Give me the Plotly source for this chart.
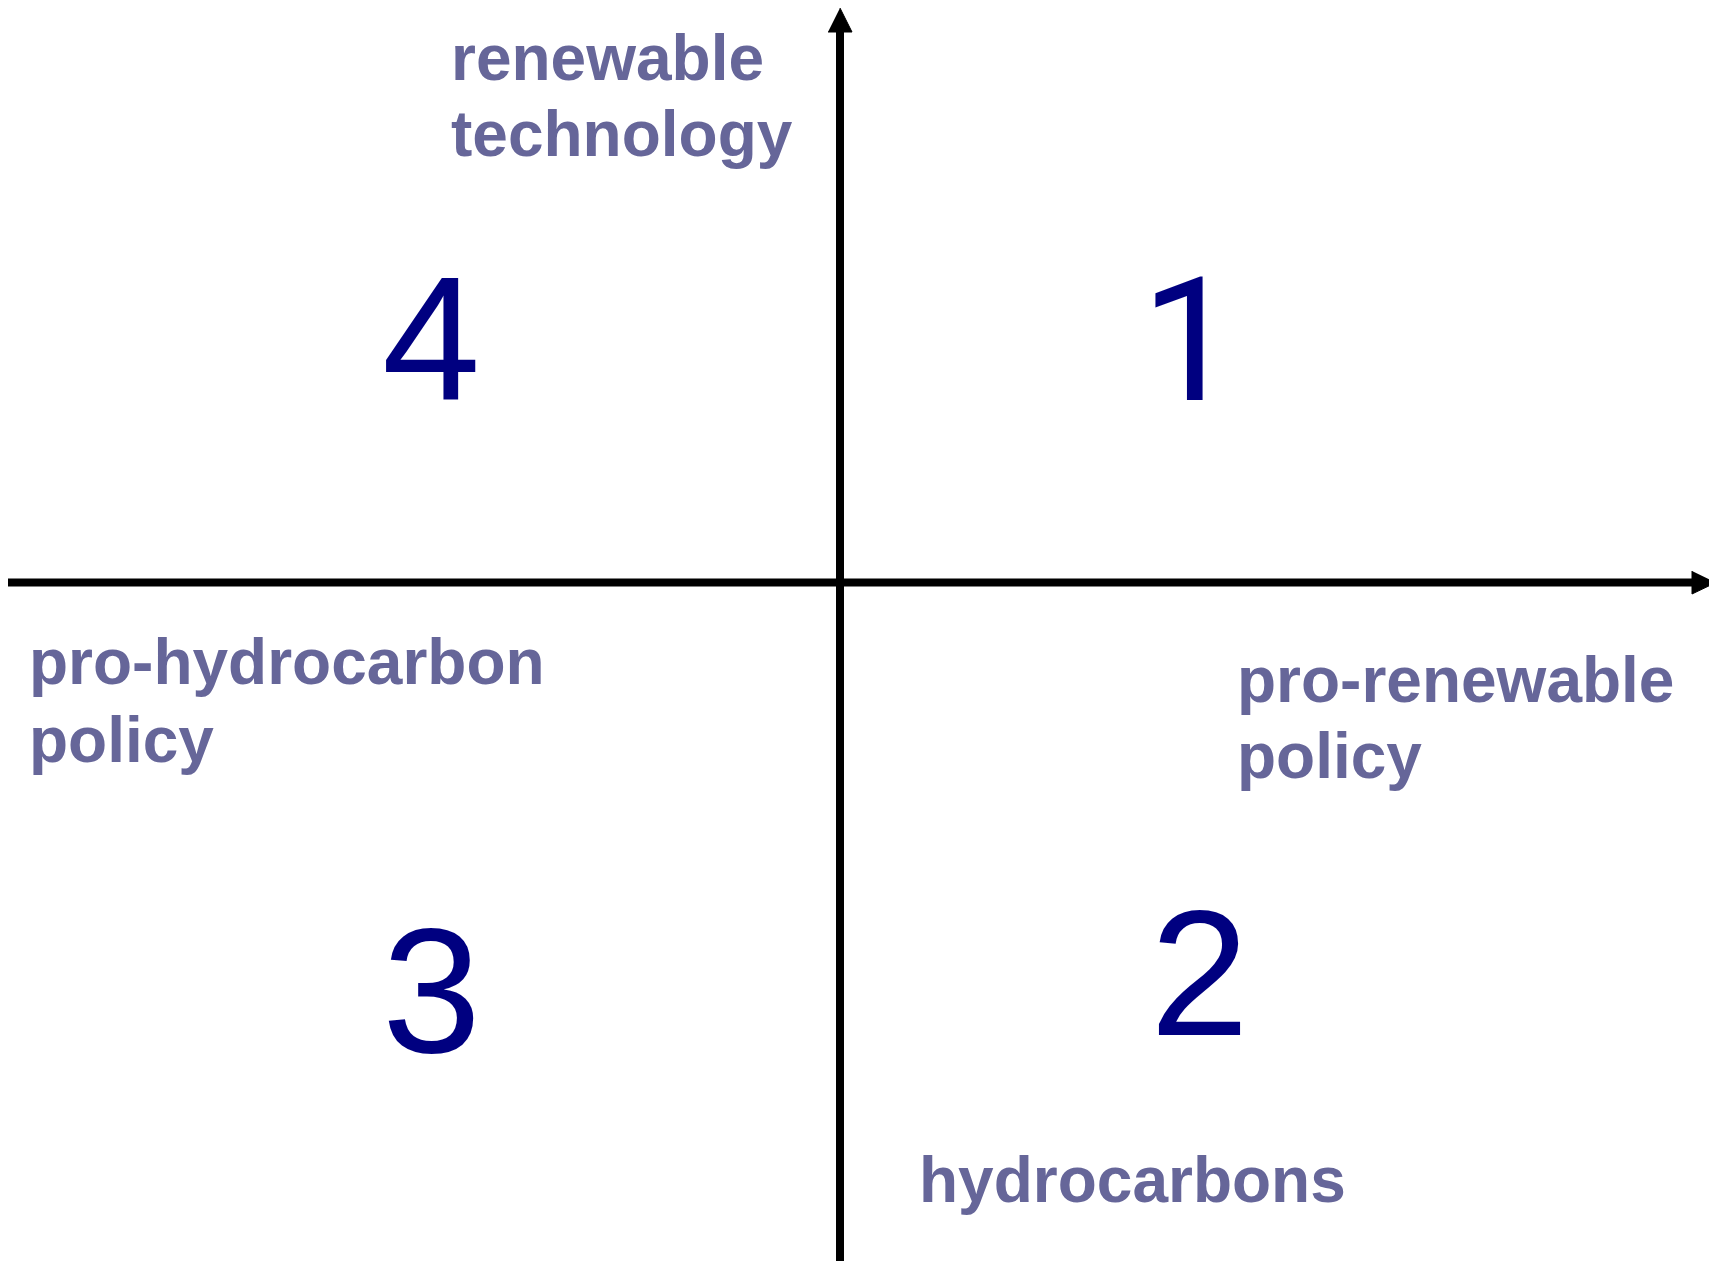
import plotly.graph_objects as go

W, H = 1709, 1261

# Quadrant numbers (text, center x, baseline y in pixel space)
quad_labels = ["1", "2", "3", "4"]
quad_x = [1189, 1199, 431, 431]
quad_base = [400, 1035, 1052, 400]
quad_fonts = ["Roboto", "Liberation Sans", "Liberation Sans", "Liberation Sans"]
quad_sizes = [173, 178, 178, 177]

# Axis-end labels (line text, left x, baseline y)
label_lines = ["renewable", "technology", "pro-hydrocarbon", "policy",
               "pro-renewable", "policy", "hydrocarbons"]
label_x = [449, 449, 27, 27, 1235, 1235, 917]
label_base = [80, 156, 684, 762, 702, 778, 1202]

# Axes geometry
v_axis_x = [840, 840]
v_axis_y = [1265, 30]
h_axis_x = [8, 1694]
h_axis_y = [582.5, 582.5]
up_head_x = [828, 852, 840]
up_head_y = [32, 32, 8]
right_head_x = [1692, 1692, 1716]
right_head_y = [571, 594, 582.5]

LABEL_FS = 64
LABEL_COLOR = "#666699"
NUM_COLOR = "#000080"

fig = go.Figure()

fig.add_trace(go.Scatter(x=v_axis_x, y=v_axis_y, mode="lines",
                         line=dict(color="black", width=8), hoverinfo="skip"))
fig.add_trace(go.Scatter(x=h_axis_x, y=h_axis_y, mode="lines",
                         line=dict(color="black", width=8), hoverinfo="skip"))
fig.add_trace(go.Scatter(x=up_head_x, y=up_head_y, mode="lines", fill="toself",
                         fillcolor="black", line=dict(color="black", width=1),
                         hoverinfo="skip"))
fig.add_trace(go.Scatter(x=right_head_x, y=right_head_y, mode="lines", fill="toself",
                         fillcolor="black", line=dict(color="black", width=1),
                         hoverinfo="skip"))

annotations = []
for t, x, b, f, s in zip(quad_labels, quad_x, quad_base, quad_fonts, quad_sizes):
    off = 0.3415 if f == "Roboto" else 0.3465
    annotations.append(dict(
        text=t, x=x, y=b - off * s, xref="x", yref="y",
        xanchor="center", yanchor="middle", showarrow=False,
        font=dict(family=f + ", Arial", size=s, color=NUM_COLOR)))
for t, x, b in zip(label_lines, label_x, label_base):
    annotations.append(dict(
        text="<b>" + t + "</b>", x=x, y=b - 0.3465 * LABEL_FS, xref="x", yref="y",
        xanchor="left", yanchor="middle", showarrow=False,
        font=dict(family="Liberation Sans, Arial", size=LABEL_FS, color=LABEL_COLOR)))

fig.update_layout(
    width=W, height=H,
    margin=dict(l=0, r=0, t=0, b=0),
    paper_bgcolor="white", plot_bgcolor="white",
    showlegend=False,
    annotations=annotations,
    xaxis=dict(range=[0, W], visible=False, fixedrange=True),
    yaxis=dict(range=[H, 0], visible=False, fixedrange=True),
)

fig.write_html("out.html", config={"displayModeBar": False},
               post_script="document.body.style.margin='0';document.body.style.overflow='hidden';")
